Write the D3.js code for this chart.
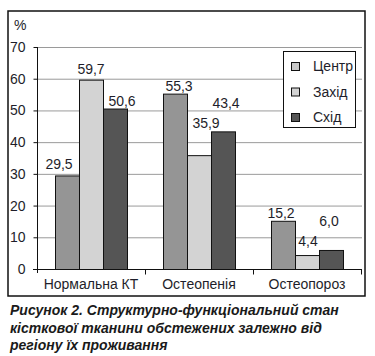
<!DOCTYPE html>
<html><head><meta charset="utf-8">
<script src="https://cdn.jsdelivr.net/npm/d3@7"></script>
<style>body{margin:0;background:#fff}svg{display:block}</style>
</head><body><svg id="c" width="375" height="356"></svg>
<script>
const categories = ["Нормальна КТ", "Остеопенія", "Остеопороз"];
const series = ["Центр", "Захід", "Схід"];
const centrValues = [29.5, 55.3, 15.2];
const zakhidValues = [59.7, 35.9, 4.4];
const skhidValues = [50.6, 43.4, 6.0];
const yTicks = [0, 10, 20, 30, 40, 50, 60, 70];
const yLabel = "%";
const caption = ["Рисунок 2. Структурно-функціональний стан",
                 "кісткової тканини обстежених залежно від",
                 "регіону їх проживання"];

const valuesBySeries = [centrValues, zakhidValues, skhidValues];
const fills = ["#959595", "#d3d3d3", "#555555"];
const legendFills = ["#c8c8c8", "#d3d3d3", "#555555"];
// per-label nudges [dx, dy] in px, series-major
const nudges = [[[-8,0],[4,3],[-2,3]], [[0,0],[7,-21],[1,-3]], [[7,3],[3,-17],[-2,-18]]];

const svg = d3.select("#c");
const font = "'Liberation Sans', Arial, sans-serif";
const txt = "#1e1e2a";

const x = d3.scaleBand().domain(categories).range([37, 361]);
const xs = d3.scaleBand().domain(series).range([18, 90]);
const y = d3.scaleLinear().domain([0, 70]).range([269, 47]);

// outer frame
svg.append("rect").attr("x", 8).attr("y", 11).attr("width", 357).attr("height", 285)
  .attr("fill", "none").attr("stroke", "#111").attr("stroke-width", 1.5);

// gridlines
svg.append("g").selectAll("line").data(yTicks.filter(t => t > 0)).join("line")
  .attr("x1", 37).attr("x2", 362).attr("y1", d => y(d) + 0.5).attr("y2", d => y(d) + 0.5)
  .attr("stroke", "#9a9a9a").attr("stroke-width", 1);

// bars
const data = [];
categories.forEach((c, ci) => series.forEach((s, si) =>
  data.push({c, s, si, ci, v: valuesBySeries[si][ci]})));
svg.append("g").selectAll("rect").data(data).join("rect")
  .attr("x", d => x(d.c) + xs(d.s) + 0.5)
  .attr("y", d => y(d.v) + 0.5)
  .attr("width", xs.bandwidth())
  .attr("height", d => y(0) - y(d.v))
  .attr("fill", d => fills[d.si]).attr("stroke", "#111").attr("stroke-width", 1);

// value labels
svg.append("g").selectAll("text").data(data).join("text")
  .attr("x", d => x(d.c) + xs(d.s) + xs.bandwidth() / 2 + nudges[d.si][d.ci][0])
  .attr("y", d => y(d.v) - 6 + nudges[d.si][d.ci][1])
  .attr("text-anchor", "middle").attr("font-family", font).attr("font-size", 14)
  .attr("fill", txt).text(d => d3.format(".1f")(d.v).replace(".", ","));

// y axis
const ya = svg.append("g").attr("transform", "translate(37.5,0)")
  .call(d3.axisLeft(y).tickValues(yTicks).tickSize(4).tickPadding(8));
ya.select(".domain").attr("stroke", "#111").attr("d", "M0," + (y(70)) + "V" + (y(0) + 4));
ya.selectAll(".tick line").attr("stroke", "#111");
ya.selectAll("text").attr("font-family", font).attr("font-size", 14).attr("fill", txt);

// x axis
const xa = svg.append("g").attr("transform", "translate(0," + (y(0) + 0.5) + ")");
xa.append("line").attr("x1", 33).attr("x2", 362).attr("stroke", "#111");
xa.selectAll("line.t").data(categories).join("line").attr("class", "t")
  .attr("x1", (d, i) => x(d) + x.bandwidth() + 0.5).attr("x2", (d, i) => x(d) + x.bandwidth() + 0.5)
  .attr("y1", 0).attr("y2", 5).attr("stroke", "#111");
xa.selectAll("text").data(categories).join("text")
  .attr("x", d => x(d) + x.bandwidth() / 2).attr("y", 19)
  .attr("text-anchor", "middle").attr("font-family", font).attr("font-size", 14)
  .attr("fill", txt).text(d => d);

// y label
svg.append("text").attr("x", 14).attr("y", 30).attr("font-family", font).attr("font-size", 14)
  .attr("fill", txt).text(yLabel);

// legend
const lg = svg.append("g");
lg.append("rect").attr("x", 283.5).attr("y", 51.5).attr("width", 72).attr("height", 76)
  .attr("fill", "#fff").attr("stroke", "#111").attr("stroke-width", 1);
const rows = d3.scalePoint().domain(series).range([66, 117]);
lg.selectAll("rect.sw").data(series).join("rect").attr("class", "sw")
  .attr("x", 291.5).attr("y", d => rows(d) - 3.5).attr("width", 8).attr("height", 8)
  .attr("fill", (d, i) => legendFills[i]).attr("stroke", "#111");
lg.selectAll("text").data(series).join("text")
  .attr("x", 313).attr("y", d => rows(d) + 5).attr("font-family", font).attr("font-size", 14)
  .attr("fill", txt).text(d => d);

// caption
svg.append("g").selectAll("text").data(caption).join("text")
  .attr("x", 10).attr("y", (d, i) => 315 + i * 17.5)
  .attr("font-family", font).attr("font-size", 14).attr("font-weight", "bold").attr("font-style", "italic")
  .attr("fill", "#1a1a1a").text(d => d);
</script></body></html>
